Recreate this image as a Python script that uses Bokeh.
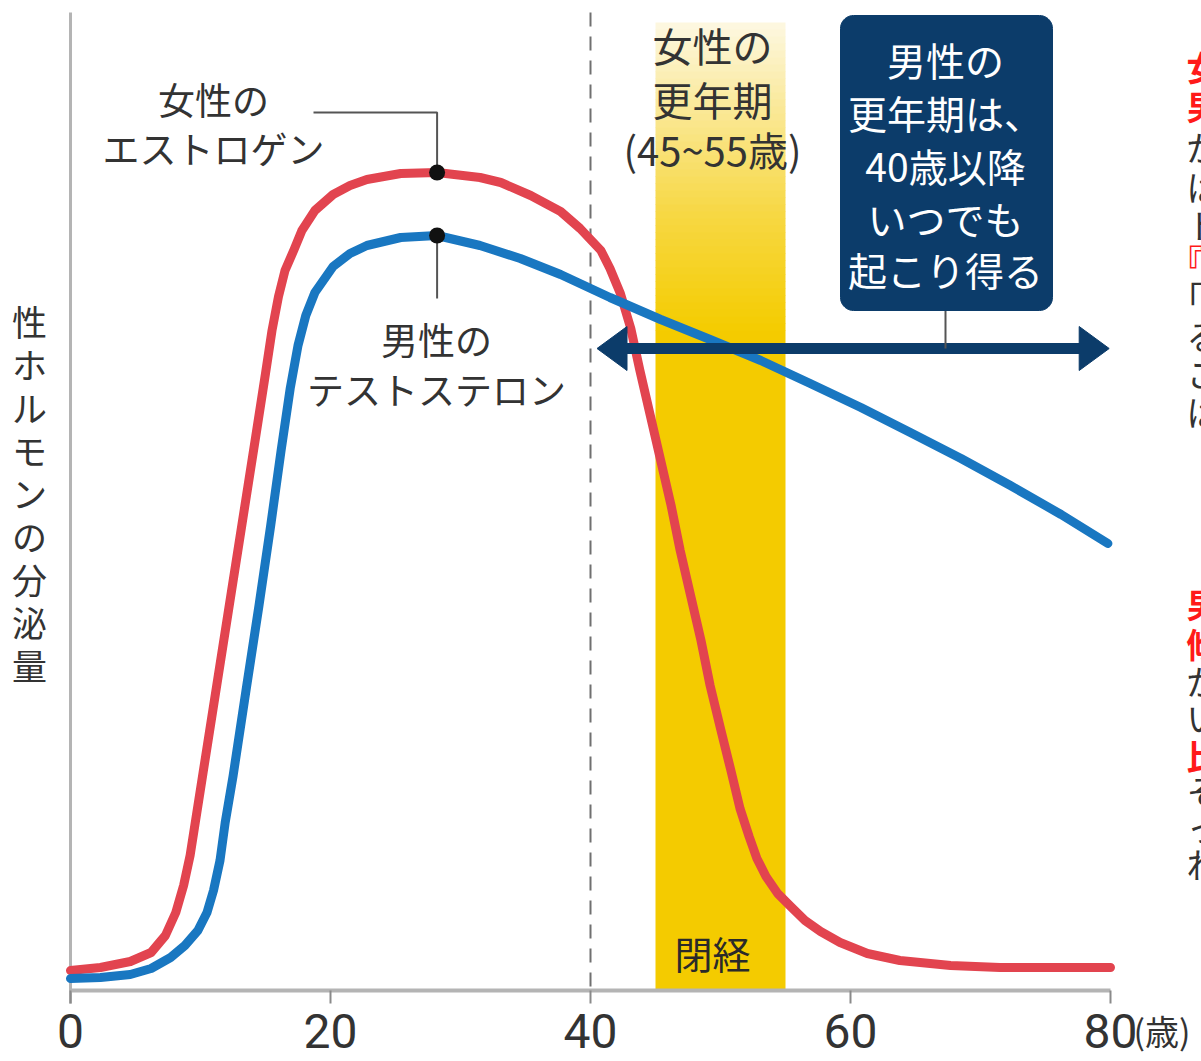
import numpy as np
from bokeh.plotting import figure
from bokeh.models import Range1d
from bokeh.core.properties import value
from bokeh.embed import file_html
from bokeh.resources import INLINE

# ---------------------------------------------------------------------------
# Data: age (years) against relative hormone secretion level
# ---------------------------------------------------------------------------
estrogen_age = [0.0, 2.3, 4.6, 6.2, 7.3, 8.1, 8.7, 9.2, 10.2, 11.2, 12.2, 13.2,
                14.2, 15.0, 15.5, 16.0, 16.5, 17.2, 17.8, 18.8, 20.2, 21.5, 22.8,
                25.4, 28.2, 31.5, 33.1, 35.4, 37.7, 39.2, 40.8, 41.5, 42.3, 43.1,
                43.8, 44.6, 45.4, 46.2, 46.9, 47.7, 48.5, 49.2, 50.0, 50.8, 51.5,
                52.2, 52.8, 53.5, 54.4, 55.4, 56.5, 57.7, 59.2, 61.3, 63.8, 67.7,
                71.5, 80.0]
estrogen_level = [2.0, 2.3, 2.9, 3.8, 5.5, 7.8, 10.5, 13.5, 21.8, 30.1, 38.4, 46.7,
                  55.0, 61.7, 66.0, 69.4, 72.0, 74.1, 76.0, 78.0, 79.6, 80.5, 81.1,
                  81.7, 81.8, 81.3, 80.8, 79.5, 77.9, 76.2, 74.0, 72.2, 69.7, 66.2,
                  62.0, 57.5, 53.0, 48.5, 44.0, 39.5, 35.0, 30.5, 26.2, 22.0, 18.2,
                  15.4, 13.2, 11.4, 9.7, 8.4, 7.0, 5.9, 4.8, 3.7, 3.0, 2.5,
                  2.3, 2.3]

testosterone_age = [0.0, 2.3, 4.6, 6.2, 7.7, 8.8, 9.8, 10.5, 11.0, 11.5, 11.9, 12.5,
                    13.5, 14.5, 15.4, 16.2, 16.9, 17.5, 18.1, 18.8, 20.2, 21.5, 22.8,
                    25.4, 28.2, 31.5, 34.6, 37.7, 41.5, 45.4, 49.2, 53.1, 56.9, 60.8,
                    64.6, 68.5, 72.3, 76.2, 79.8]
testosterone_level = [1.2, 1.3, 1.6, 2.2, 3.3, 4.5, 6.0, 7.8, 10.0, 13.0, 16.8, 21.4,
                      30.0, 38.5, 46.5, 54.0, 60.2, 64.5, 67.5, 69.8, 72.4, 73.7, 74.5,
                      75.3, 75.5, 74.5, 73.2, 71.6, 69.3, 67.1, 65.1, 63.0, 60.7, 58.3,
                      55.8, 53.2, 50.5, 47.6, 44.7]

peak_age = 28.2
estrogen_peak = 81.8
testosterone_peak = 75.5

menopause_start = 45
menopause_end = 55
male_from_age = 40
male_arrow_from = 40.5
male_arrow_to = 79.9

x_ticks = [0, 20, 40, 60, 80]
x_tick_labels = ["0", "20", "40", "60", "80"]
age_unit = "(歳)"
y_title = "性ホルモンの分泌量"

# ---------------------------------------------------------------------------
# Canvas geometry: pixel anchors of the age/level axes
# ---------------------------------------------------------------------------
W, H = 1201, 1061
X0, Y0 = 70.0, 990.0          # pixel position of age 0 / level 0
PX_YEAR, PX_LEVEL = 13.0, 10.0


def ax(px):
    return (px - X0) / PX_YEAR


def ay(py):
    return (Y0 - py) / PX_LEVEL


JP = value("Noto Sans CJK JP")
NUM = value("Roboto")
INK = "#333333"
GRID_GREY = "#b4b4b4"
RED = "#e2444f"
BLUE = "#1977c1"
NAVY = "#0c3c6a"

p = figure(width=W, height=H, output_backend="svg", toolbar_location=None,
           x_range=Range1d(ax(0), ax(W)), y_range=Range1d(ay(H), ay(0)),
           x_axis_location=None, y_axis_location=None, min_border=0,
           outline_line_color=None, background_fill_color="white",
           border_fill_color="white")
p.xgrid.visible = False
p.ygrid.visible = False

# --- menopause band with a soft fade towards the top ------------------------
stops = [(22, (253, 248, 226)), (110, (250, 232, 150)), (210, (247, 216, 70)),
         (330, (244, 204, 0))]
edges = np.linspace(22, 330, 45)
tops, bottoms, cols = [], [], []
for a, b in zip(edges[:-1], edges[1:]):
    m = 0.5 * (a + b)
    rgb = [int(round(np.interp(m, [s[0] for s in stops], [s[1][k] for s in stops])))
           for k in range(3)]
    tops.append(ay(a))
    bottoms.append(ay(b) - 0.05)
    cols.append("#%02x%02x%02x" % tuple(rgb))
n = len(tops)
p.quad(left=[menopause_start] * n, right=[menopause_end] * n, top=tops,
       bottom=bottoms, fill_color=cols, line_color=None)
p.quad(left=[menopause_start], right=[menopause_end], top=[ay(330)], bottom=[0],
       fill_color="#f4cb00", line_color=None)

# --- dashed marker at age 40 ------------------------------------------------
p.segment(x0=[male_from_age], y0=[ay(12)], x1=[male_from_age], y1=[0],
          line_color="#707070", line_width=2, line_dash="14 10")

# --- axes drawn by hand -----------------------------------------------------
p.segment(x0=[0], y0=[ay(12)], x1=[0], y1=[ay(1003)], line_color=GRID_GREY,
          line_width=3)
p.segment(x0=[0], y0=[0], x1=[x_ticks[-1]], y1=[0], line_color=GRID_GREY,
          line_width=4)
p.segment(x0=x_ticks, y0=[0] * len(x_ticks), x1=x_ticks,
          y1=[ay(1003)] * len(x_ticks), line_color="#8a8a8a", line_width=2)
p.text(x=x_ticks, y=[ay(1030)] * len(x_ticks), text=x_tick_labels,
       text_font=NUM, text_font_size="48px", text_color=INK,
       text_align="center", text_baseline="middle")
p.text(x=[ax(1133)], y=[ay(1030)], text=[age_unit], text_font=JP,
       text_font_size="34px", text_color=INK, text_align="left",
       text_baseline="middle")

# vertical axis title, one character per row
chars = list(y_title)
p.text(x=[ax(29)] * len(chars), y=[ay(320 + 43 * i) for i in range(len(chars))],
       text=chars, text_font=JP, text_font_size="35px", text_color=INK,
       text_align="center", text_baseline="middle")

# --- hormone curves ---------------------------------------------------------
p.line(estrogen_age, estrogen_level, line_color=RED, line_width=9,
       line_cap="round", line_join="round")
p.line(testosterone_age, testosterone_level, line_color=BLUE, line_width=9,
       line_cap="round", line_join="round")

# --- leaders and peak markers -----------------------------------------------
p.line([ax(313), peak_age, peak_age], [ay(112), ay(112), estrogen_peak],
       line_color="#555555", line_width=2)
p.line([peak_age, peak_age], [testosterone_peak, ay(298)],
       line_color="#555555", line_width=2)
p.scatter([peak_age, peak_age], [estrogen_peak, testosterone_peak], size=16,
          fill_color="#111111", line_color=None)


# --- labels -------------------------------------------------------------------
def lines(texts, cx, cys, size, color=INK):
    p.text(x=[ax(cx)] * len(texts), y=[ay(c) for c in cys], text=texts,
           text_font=JP, text_font_size=size, text_color=color,
           text_align="center", text_baseline="middle")


lines(["女性の", "エストロゲン"], 213, [98, 147], "37px")
lines(["男性の", "テストステロン"], 436, [338, 388], "37px")
lines(["女性の", "更年期", "(45~55歳)"], 712, [44, 98, 148], "40px")
lines(["閉経"], 712, [952], "38px", "#2a2a2a")

# --- double-headed arrow for the male climacteric ---------------------------
arrow_y = ay(348)
head_len, head_half = 30 / PX_YEAR, 22 / PX_LEVEL
p.segment(x0=[male_arrow_from + head_len * 0.8], y0=[arrow_y],
          x1=[male_arrow_to - head_len * 0.8], y1=[arrow_y],
          line_color=NAVY, line_width=11)
p.patches(xs=[[male_arrow_from, male_arrow_from + head_len, male_arrow_from + head_len],
              [male_arrow_to, male_arrow_to - head_len, male_arrow_to - head_len]],
          ys=[[arrow_y, arrow_y + head_half, arrow_y - head_half]] * 2,
          fill_color=NAVY, line_color=NAVY, line_width=1)

# connector from the call-out box down to the arrow
p.segment(x0=[ax(945)], y0=[ay(310)], x1=[ax(945)], y1=[arrow_y],
          line_color="#555555", line_width=2)

# rounded call-out box
l, r, t, b, rad = 840, 1052, 15, 310, 13
xs, ys = [], []
for cx, cy, a0 in [(r - rad, t + rad, -90), (r - rad, b - rad, 0),
                   (l + rad, b - rad, 90), (l + rad, t + rad, 180)]:
    ang = np.radians(np.linspace(a0, a0 + 90, 12))
    xs.extend(ax(cx + rad * np.cos(ang)))
    ys.extend(ay(cy + rad * np.sin(ang)))
p.patch(xs, ys, fill_color=NAVY, line_color=NAVY)
lines(["男性の", "更年期は、", "40歳以降", "いつでも", "起こり得る"], 945,
      [58, 111, 164, 217, 268], "39px", "white")

# --- neighbouring article text running off the right edge ---------------------
side_rows = [("女", 66, True), ("男", 105, True), ("が", 146, False),
             ("は", 186, False), ("ト", 224, False), ("『", 260, True),
             ("「", 297, False), ("る", 335, False), ("こ", 373, False),
             ("は", 411, False),
             ("男", 603, True), ("傾", 643, True), ("が", 680, False),
             ("い", 717, False), ("比", 755, True), ("そ", 790, False),
             ("っ", 827, False), ("れ", 863, False)]
for ch, yy, hot in side_rows:
    left = 1186 - (17 if ch in "『「" else 0)
    p.text(x=[ax(left)], y=[ay(yy)], text=[ch], text_font=JP,
           text_font_size="34px", text_color="#ff1a1a" if hot else INK,
           text_font_style="bold" if hot else "normal", text_align="left",
           text_baseline="middle")

open("out.html", "w").write(file_html(p, INLINE))
